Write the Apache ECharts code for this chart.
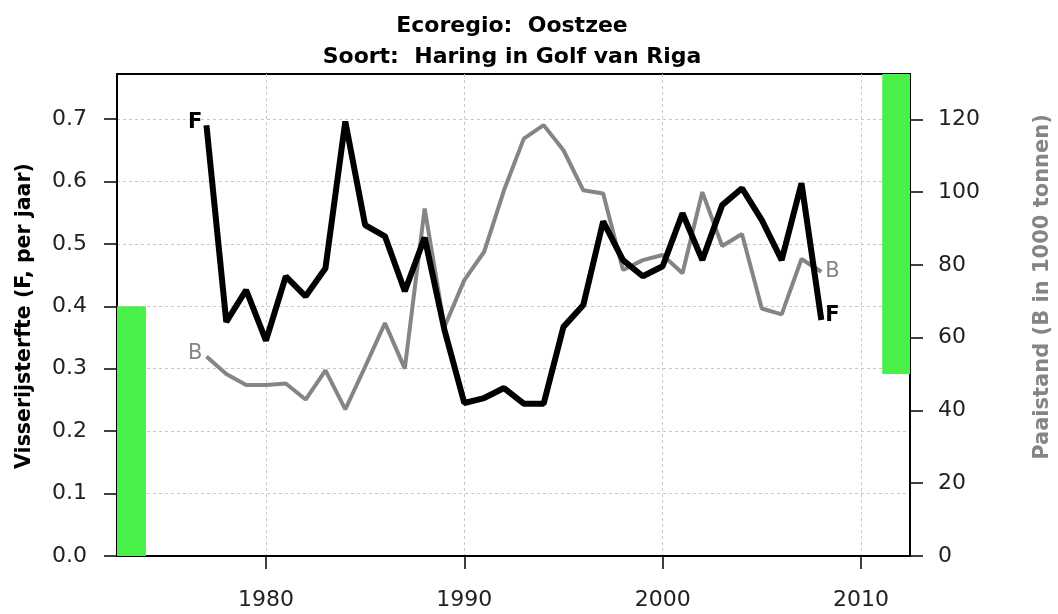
<!DOCTYPE html>
<html>
<head>
<meta charset="utf-8">
<script src="https://cdn.jsdelivr.net/npm/echarts@6/dist/echarts.min.js"></script>
<style>
html, body { margin: 0; padding: 0; background: #fff; }
#chart { width: 1058px; height: 614px; }
</style>
</head>
<body>
<div id="chart"></div>
<script>
// data
var years = [1977, 1978, 1979, 1980, 1981, 1982, 1983, 1984, 1985, 1986, 1987,
  1988, 1989, 1990, 1991, 1992, 1993, 1994, 1995, 1996, 1997, 1998, 1999,
  2000, 2001, 2002, 2003, 2004, 2005, 2006, 2007, 2008];
var fValues = [0.69, 0.375, 0.426, 0.345, 0.448, 0.416, 0.461, 0.696, 0.530,
  0.512, 0.424, 0.510, 0.362, 0.245, 0.253, 0.269, 0.244, 0.244, 0.367, 0.402,
  0.536, 0.474, 0.448, 0.464, 0.549, 0.474, 0.562, 0.589, 0.538, 0.474, 0.597,
  0.378];
var bValues = [54.8, 50, 47, 47, 47.4, 43, 51, 40.3, 52, 64, 51.5, 95.5, 63,
  75.8, 83.6, 100.5, 114.7, 118.4, 111.5, 100.5, 99.6, 78.6, 81.3, 82.7, 77.7,
  100, 85.2, 88.5, 68, 66.4, 81.6, 78.1];
var fpa = 0.4;
var bpa = 50;

var xTicks = [1980, 1990, 2000, 2010];
var fTicks = [0, 0.1, 0.2, 0.3, 0.4, 0.5, 0.6, 0.7];
var bTicks = [0, 20, 40, 60, 80, 100, 120];

// axis ranges (R style padding)
var xMin = 1972.49, xMax = 2012.47;
var fMax = 0.772, bMax = 132.45;

var FONT = 'DejaVu Sans';
var GREEN = '#48f048';
var GREY = '#858585';

function endLabel(text, pos, color, bold, offset) {
  return {
    show: true,
    position: pos,
    distance: 4,
    offset: offset,
    formatter: text,
    color: color,
    fontFamily: FONT,
    fontSize: 21,
    fontWeight: bold ? 'bold' : 'normal'
  };
}

function buildData(values, text, color, bold) {
  var last = values.length - 1;
  return years.map(function (y, i) {
    var item = { value: [y, values[i]] };
    if (i === 0) item.label = endLabel(text, 'left', color, bold, [0, -3]);
    if (i === last) item.label = endLabel(text, 'right', color, bold, [0, text === 'F' ? -4 : 0]);
    return item;
  });
}

var tickStyle = { color: '#000', width: 1.5 };
var axisLine = { show: true, lineStyle: { color: '#000', width: 2 } };
var labelStyle = { fontFamily: FONT, fontSize: 22, color: '#222' };
var gridLine = { show: true, lineStyle: { color: '#c8c8c8', width: 1, type: [3, 3] } };

var chart = echarts.init(document.getElementById('chart'));
var option = {
  animation: false,
  backgroundColor: '#fff',
  grid: {
    left: 117, right: 148, top: 74, bottom: 58,
    show: true, borderColor: '#000', borderWidth: 2,
    containLabel: false, outerBoundsMode: 'none'
  },
  xAxis: {
    type: 'value', min: xMin, max: xMax,
    axisLine: axisLine,
    axisTick: { show: true, length: 13, lineStyle: tickStyle, customValues: xTicks },
    axisLabel: Object.assign({
      customValues: xTicks, margin: 33,
      formatter: function (v) { return String(v); }
    }, labelStyle),
    splitLine: gridLine
  },
  yAxis: [
    {
      type: 'value', min: 0, max: fMax, position: 'left',
      axisLine: axisLine,
      axisTick: { show: true, length: 13, lineStyle: tickStyle, customValues: fTicks },
      axisLabel: Object.assign({
        customValues: fTicks, margin: 30,
        formatter: function (v) { return v.toFixed(1); }
      }, labelStyle),
      splitLine: gridLine
    },
    {
      type: 'value', min: 0, max: bMax, position: 'right',
      axisLine: axisLine,
      axisTick: { show: true, length: 13, lineStyle: tickStyle, customValues: bTicks },
      axisLabel: Object.assign({ customValues: bTicks, margin: 28 }, labelStyle),
      splitLine: { show: false }
    }
  ],
  series: [
    {
      name: 'F', type: 'line', yAxisIndex: 0,
      data: buildData(fValues, 'F', '#000', true),
      symbol: 'circle', symbolSize: 0, showSymbol: true,
      lineStyle: { color: '#000', width: 6 },
      itemStyle: { color: '#000' },
      silent: true, z: 4,
      markArea: {
        silent: true,
        itemStyle: { color: GREEN },
        data: [[{ coord: [xMin, 0] }, { coord: [xMin + 1.46, fpa] }]]
      }
    },
    {
      name: 'B', type: 'line', yAxisIndex: 1,
      data: buildData(bValues, 'B', GREY, false),
      symbol: 'circle', symbolSize: 0, showSymbol: true,
      lineStyle: { color: GREY, width: 4 },
      itemStyle: { color: GREY },
      silent: true, z: 3,
      markArea: {
        silent: true,
        itemStyle: { color: GREEN },
        data: [[{ coord: [xMax - 1.4, bpa] }, { coord: [xMax, bMax] }]]
      }
    }
  ],
  graphic: [
    {
      type: 'text', x: 512, y: 26,
      style: { text: 'Ecoregio:  Oostzee', align: 'center', verticalAlign: 'middle',
        fontFamily: FONT, fontSize: 22, fontWeight: 'bold', fill: '#000' }
    },
    {
      type: 'text', x: 512, y: 57,
      style: { text: 'Soort:  Haring in Golf van Riga', align: 'center', verticalAlign: 'middle',
        fontFamily: FONT, fontSize: 22, fontWeight: 'bold', fill: '#000' }
    },
    {
      type: 'text', x: 25, y: 316, rotation: Math.PI / 2,
      style: { text: 'Visserijsterfte (F, per jaar)', align: 'center', verticalAlign: 'middle',
        fontFamily: FONT, fontSize: 20.5, fontWeight: 'bold', fill: '#000' }
    },
    {
      type: 'text', x: 1043, y: 287, rotation: Math.PI / 2,
      style: { text: 'Paaistand (B in 1000 tonnen)', align: 'center', verticalAlign: 'middle',
        fontFamily: FONT, fontSize: 21, fontWeight: 'bold', fill: GREY }
    }
  ]
};
chart.setOption(option);
</script>
</body>
</html>
